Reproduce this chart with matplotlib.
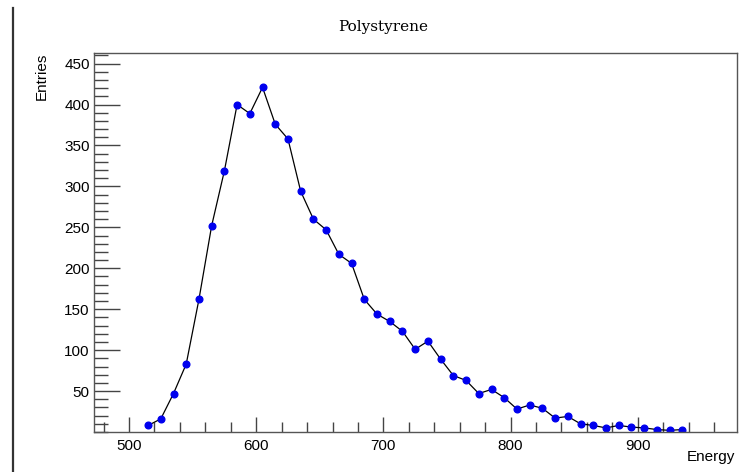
import matplotlib
matplotlib.use("Agg")
import matplotlib.pyplot as plt
from matplotlib.lines import Line2D
from matplotlib.ticker import MultipleLocator

# bin centres and counts
energy = list(range(515, 945, 10))
entries = [8, 16, 47, 83, 162,
           252, 319, 400, 389, 421,
           376, 358, 294, 260, 247,
           217, 206, 162, 144, 135,
           123, 101, 111, 89, 69,
           63, 47, 52, 42, 28,
           33, 29, 17, 19, 10,
           8, 5, 8, 6, 5,
           3, 2, 3]

x_major = [500, 600, 700, 800, 900]
y_major = [50, 100, 150, 200, 250, 300, 350, 400, 450]

plt.rcParams['font.family'] = ['Liberation Sans', 'DejaVu Sans']

W, H = 739, 472
fig = plt.figure(figsize=(W / 100, H / 100), dpi=100)
ax = fig.add_axes([94 / W, (H - 432) / H, (737 - 94) / W, (432 - 53) / H])

ax.plot(energy, entries, color='black', lw=0.9, marker='o',
        markersize=4.8, markerfacecolor='#0000ee', markeredgecolor='#0000ee')

ax.set_xlim(472.5, 978)
ax.set_ylim(0, 463)

ax.set_xticks(x_major)
ax.set_yticks(y_major)
ax.xaxis.set_minor_locator(MultipleLocator(20))
ax.yaxis.set_minor_locator(MultipleLocator(10))

ax.tick_params(axis='y', which='major', direction='in', length=19, width=1,
               color='#444444', labelsize=11, pad=3)
ax.tick_params(axis='y', which='minor', direction='in', length=10, width=1,
               color='#444444')
ax.tick_params(axis='x', which='major', direction='in', length=11, width=1,
               color='#444444', labelsize=11, pad=5)
ax.tick_params(axis='x', which='minor', direction='in', length=7, width=1,
               color='#444444')

for s in ax.spines.values():
    s.set_color('#555555')
    s.set_linewidth(1)

fig.text(42 / W, 1 - 53 / H, 'Entries', rotation=90, ha='center', va='top',
         fontsize=11)
fig.text(735 / W, 1 - 457 / H, 'Energy', ha='right', va='center',
         fontsize=11)
fig.text(383 / W, 1 - 27 / H, 'Polystyrene', ha='center', va='center',
         fontsize=11, family=['DejaVu Serif'])

# dark bar at the left edge of the canvas
fig.add_artist(Line2D([13 / W, 13 / W], [0, 1 - 8 / H], color='#333333',
                      lw=1.6, transform=fig.transFigure))

fig.savefig('out.png', dpi=100)
